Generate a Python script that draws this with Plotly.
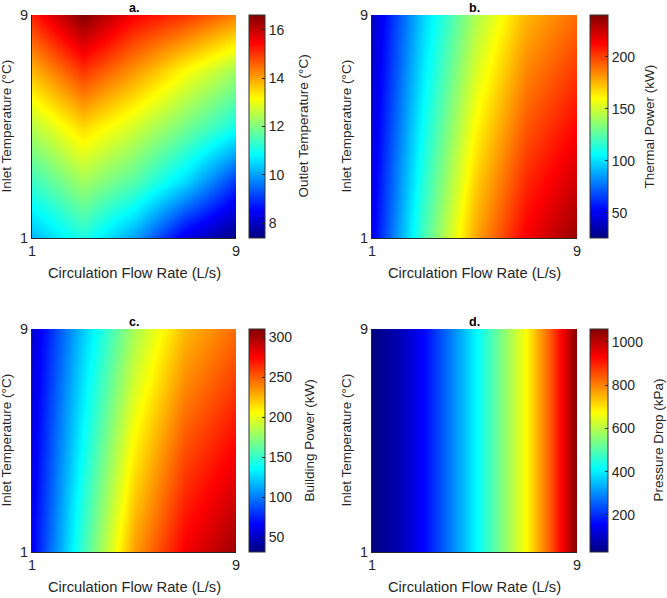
import plotly.graph_objects as go

# ---------------- data ----------------
flow = [1, 3, 5, 7, 9]          # Circulation flow rate (L/s)
inlet = [1, 3, 5, 7, 9]         # Inlet temperature (°C)

# rows = inlet temperature, columns = flow rate
outlet_temp = [
    [10.2, 11.1, 10.0, 8.3, 7.4],
    [11.35, 12.3, 11.6, 10.5, 9.0],
    [12.5, 13.5, 12.75, 11.9, 11.0],
    [13.8, 15.0, 14.1, 13.15, 12.3],
    [15.2, 16.6, 15.5, 15.0, 14.3],
]

thermal_power = [
    [50, 120, 178, 215, 235],
    [47.5, 114, 169, 205, 224],
    [45, 108, 160, 195, 213],
    [42.5, 102, 151, 185, 202],
    [40, 97, 142, 175, 191],
]

building_power = [
    [65, 152, 232, 278, 302],
    [62, 145, 219, 265, 288],
    [60, 137, 207, 252, 274],
    [57, 130, 194, 238, 260],
    [54, 122, 182, 225, 246],
]

pressure_flow = [1, 2, 3, 4, 5, 6, 7, 8, 9]
pressure_inlet = [1, 9]
pressure_drop = [30, 80, 158, 275, 405, 535, 673, 850, 1059]

panel_titles = ["a.", "b.", "c.", "d."]
cbar_titles = ["Outlet Temperature (°C)", "Thermal Power (kW)",
               "Building Power (kW)", "Pressure Drop (kPa)"]
cbar_ranges = [(7.38, 16.62), (26, 240), (32, 310), (29, 1059)]
cbar_ticks = [[8, 10, 12, 14, 16], [50, 100, 150, 200],
              [50, 100, 150, 200, 250, 300], [200, 400, 600, 800, 1000]]
x_title = "Circulation Flow Rate (L/s)"
y_title = "Inlet Temperature (°C)"

# ---------------- styling / layout ----------------
W, H = 667, 598
FONT = "Arial, Liberation Sans, sans-serif"
TXT = "#262626"
jet = [[0.0, "rgb(0,0,128)"], [0.125, "rgb(0,0,255)"], [0.375, "rgb(0,255,255)"],
       [0.625, "rgb(255,255,0)"], [0.875, "rgb(255,0,0)"], [1.0, "rgb(128,0,0)"]]

def fx(p):
    return p / W

def fy(p):
    return 1 - p / H

# pixel boxes: (left, right, top, bottom), colorbar left, thickness, cbar title x
boxes = [
    ((32, 236, 15, 238), 249, 16, 303),
    ((372, 577, 15, 238), 590, 18, 649),
    ((32, 236, 329, 552), 249, 16, 309),
    ((372, 577, 329, 552), 590, 18, 658),
]

datasets = [
    (flow, inlet, outlet_temp),
    (flow, inlet, thermal_power),
    (flow, inlet, building_power),
    (pressure_flow, pressure_inlet, [pressure_drop, pressure_drop]),
]

fig = go.Figure()
layout = dict(width=W, height=H, margin=dict(l=0, r=0, t=0, b=0, autoexpand=False),
              paper_bgcolor="white", plot_bgcolor="white",
              font=dict(family=FONT, color=TXT, size=14), showlegend=False)
annotations = []

for i, ((l, r, t, b), cbx, thick, ctx) in enumerate(boxes):
    xs, ys, zs = datasets[i]
    xa = "x" if i == 0 else f"x{i+1}"
    ya = "y" if i == 0 else f"y{i+1}"
    zmin, zmax = cbar_ranges[i]
    fig.add_trace(go.Heatmap(
        x=xs, y=ys, z=zs, xaxis=xa, yaxis=ya, zsmooth="best",
        colorscale=jet, zmin=zmin, zmax=zmax,
        colorbar=dict(
            x=fx(cbx), xanchor="left", xref="paper",
            y=(fy(t) + fy(b)) / 2, yanchor="middle", yref="paper",
            len=(b - t) / H, lenmode="fraction", thickness=thick,
            thicknessmode="pixels", xpad=0, ypad=0,
            outlinewidth=1, outlinecolor="#333333",
            tickvals=cbar_ticks[i], ticks="inside", ticklen=3,
            tickcolor="#262626", tickfont=dict(size=14, color=TXT, family=FONT),
        ),
        hoverinfo="skip",
    ))
    xkey = "xaxis" if i == 0 else f"xaxis{i+1}"
    ykey = "yaxis" if i == 0 else f"yaxis{i+1}"
    layout[xkey] = dict(domain=[fx(l), fx(r)], anchor=ya, range=[1, 9],
                        tickvals=[1, 9], ticks="", showline=True, linecolor="#262626",
                        linewidth=1, mirror=False, showgrid=False, zeroline=False,
                        automargin=False, tickfont=dict(size=14.5, color=TXT))
    layout[ykey] = dict(domain=[fy(b), fy(t)], anchor=xa, range=[1, 9],
                        tickvals=[1, 9], ticks="", showline=True, linecolor="#262626",
                        linewidth=1, mirror=False, showgrid=False, zeroline=False,
                        automargin=False, tickfont=dict(size=14.5, color=TXT))
    # panel title
    annotations.append(dict(text=f"<b>{panel_titles[i]}</b>", x=fx((l + r) / 2), y=fy(t - 7),
                            xref="paper", yref="paper", xanchor="center", yanchor="middle",
                            showarrow=False, borderpad=0,
                            font=dict(size=12.5, color="black")))
    # x axis title
    annotations.append(dict(text=x_title, x=fx((l + r) / 2), y=fy(b + 35),
                            xref="paper", yref="paper", xanchor="center", yanchor="middle",
                            showarrow=False, font=dict(size=14.7, color=TXT)))
    # y axis title
    annotations.append(dict(text=y_title, x=fx(l - 26), y=(fy(t) + fy(b)) / 2,
                            xref="paper", yref="paper", xanchor="center", yanchor="middle",
                            textangle=-90, showarrow=False, font=dict(size=13.5, color=TXT)))
    # colorbar title
    annotations.append(dict(text=cbar_titles[i], x=fx(ctx), y=(fy(t) + fy(b)) / 2,
                            xref="paper", yref="paper", xanchor="center", yanchor="middle",
                            textangle=-90, showarrow=False, font=dict(size=13.5, color=TXT)))

layout["annotations"] = annotations
fig.update_layout(**layout)
fig.write_html("out.html")
